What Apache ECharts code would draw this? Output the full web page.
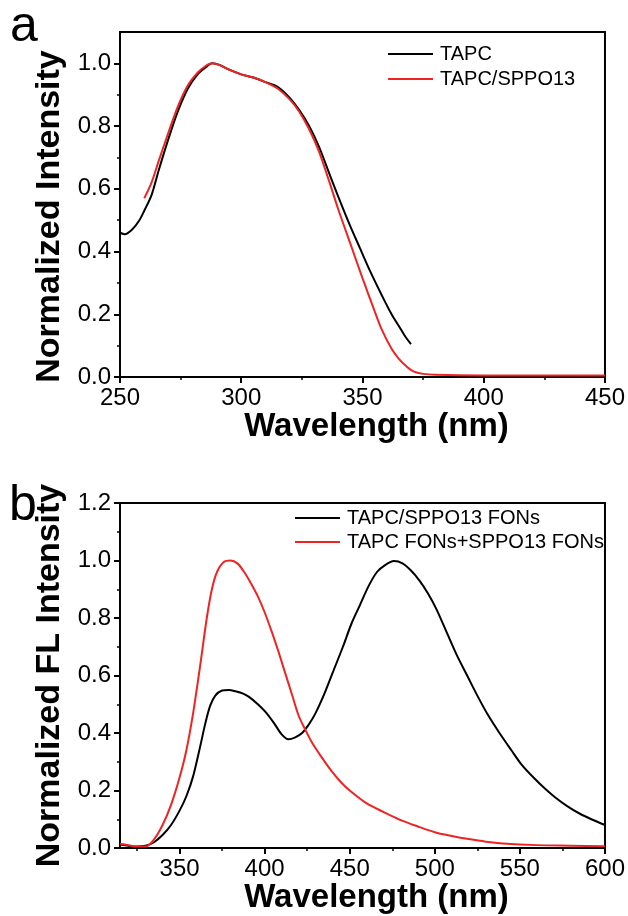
<!DOCTYPE html>
<html>
<head>
<meta charset="utf-8">
<script src="https://cdn.jsdelivr.net/npm/echarts@6/dist/echarts.min.js"></script>
<style>
  html, body { margin: 0; padding: 0; background: #fff; }
  #main { width: 628px; height: 916px; }
</style>
</head>
<body>
<div id="main"></div>
<script>
// panel a: absorption
var aTapcWl  = [250, 252, 255, 258, 260, 263, 266, 270, 274, 278, 282, 285, 288, 291, 295, 300, 305, 310, 315, 320, 324, 328, 332, 336, 340, 345, 349, 353, 358, 362, 366, 368, 370];
var aTapcVal = [0.46, 0.455, 0.47, 0.50, 0.53, 0.58, 0.66, 0.76, 0.85, 0.92, 0.965, 0.985, 1.0, 0.995, 0.98, 0.965, 0.955, 0.94, 0.925, 0.89, 0.85, 0.80, 0.735, 0.655, 0.575, 0.48, 0.41, 0.34, 0.26, 0.20, 0.15, 0.125, 0.105];
var aMixWl   = [260, 263, 266, 270, 274, 278, 282, 285, 288, 291, 295, 300, 305, 310, 315, 320, 324, 328, 332, 336, 340, 345, 350, 355, 358, 362, 365, 368, 371, 375, 380, 400, 450];
var aMixVal  = [0.57, 0.62, 0.69, 0.78, 0.865, 0.93, 0.97, 0.99, 1.0, 0.995, 0.98, 0.965, 0.955, 0.94, 0.92, 0.885, 0.845, 0.79, 0.72, 0.63, 0.535, 0.425, 0.315, 0.21, 0.15, 0.09, 0.058, 0.035, 0.018, 0.01, 0.007, 0.005, 0.005];

// panel b: fluorescence
var bBlendWl  = [315, 320, 325, 330, 335, 340, 345, 350, 354, 358, 362, 365, 368, 371, 375, 379, 383, 387, 391, 396, 401, 406, 410, 414, 418, 422, 426, 430, 435, 440, 446, 451, 456, 461, 466, 471, 476, 481, 486, 491, 496, 501, 507, 513, 519, 525, 531, 538, 545, 551, 558, 565, 571, 578, 585, 592, 600];
var bBlendVal = [0.012, 0.008, 0.005, 0.008, 0.02, 0.045, 0.08, 0.13, 0.18, 0.25, 0.35, 0.43, 0.495, 0.53, 0.548, 0.55, 0.545, 0.538, 0.525, 0.5, 0.47, 0.43, 0.395, 0.378, 0.385, 0.4, 0.43, 0.47, 0.535, 0.61, 0.70, 0.78, 0.845, 0.91, 0.96, 0.985, 0.998, 0.99, 0.965, 0.93, 0.885, 0.83, 0.75, 0.67, 0.6, 0.53, 0.465, 0.40, 0.34, 0.29, 0.245, 0.205, 0.175, 0.145, 0.12, 0.1, 0.08];
var bSumWl  = [315, 320, 325, 330, 335, 340, 345, 350, 354, 358, 362, 366, 369, 372, 376, 380, 384, 388, 392, 396, 400, 404, 408, 412, 416, 420, 424, 428, 433, 439, 445, 450, 460, 470, 480, 490, 500, 510, 520, 530, 540, 560, 580, 600];
var bSumVal = [0.015, 0.01, 0.005, 0.005, 0.03, 0.08, 0.15, 0.245, 0.34, 0.47, 0.63, 0.8, 0.9, 0.96, 0.995, 1.0, 0.99, 0.96, 0.92, 0.875, 0.82, 0.755, 0.685, 0.61, 0.535, 0.46, 0.41, 0.365, 0.32, 0.27, 0.228, 0.2, 0.155, 0.125, 0.097, 0.075, 0.055, 0.042, 0.031, 0.022, 0.016, 0.01, 0.008, 0.006];

// ticks
var aXMajor = [250, 300, 350, 400, 450];
var aXMinor = [275, 325, 375, 425];
var aYMajor = [0, 0.2, 0.4, 0.6, 0.8, 1.0];
var aYMinor = [0.1, 0.3, 0.5, 0.7, 0.9];
var bXMajor = [350, 400, 450, 500, 550, 600];
var bXMinor = [325, 375, 425, 475, 525, 575];
var bYMajor = [0, 0.2, 0.4, 0.6, 0.8, 1.0, 1.2];
var bYMinor = [0.1, 0.3, 0.5, 0.7, 0.9, 1.1];

function zip(xs, ys) {
  return xs.map(function (x, i) { return [x, ys[i]]; });
}

var FONT = 'Liberation Sans';
var RED = '#ee2424';

function mainX(grid, min, max, major, name) {
  return {
    type: 'value', gridIndex: grid, min: min, max: max, position: 'bottom',
    name: name, nameLocation: 'middle', nameGap: 32,
    nameTextStyle: { fontFamily: FONT, fontSize: 33, fontWeight: 'bold', color: '#000', padding: [0, 0, 0, 28] },
    axisLine: { onZero: false, lineStyle: { color: '#000', width: 2 } },
    axisTick: { customValues: major, length: 6, lineStyle: { color: '#000', width: 2 } },
    axisLabel: { customValues: major, margin: 9, fontFamily: FONT, fontSize: 24, color: '#000' },
    splitLine: { show: false }
  };
}
function mainY(grid, min, max, major, name, pad) {
  return {
    type: 'value', gridIndex: grid, min: min, max: max, position: 'left',
    name: name, nameLocation: 'middle', nameGap: 46,
    nameTextStyle: { fontFamily: FONT, fontSize: 34, fontWeight: 'bold', color: '#000', padding: pad },
    axisLine: { onZero: false, lineStyle: { color: '#000', width: 2 } },
    axisTick: { customValues: major, length: 6, lineStyle: { color: '#000', width: 2 } },
    axisLabel: {
      customValues: major, margin: 9, fontFamily: FONT, fontSize: 24, color: '#000',
      formatter: function (v) { return v.toFixed(1); }
    },
    splitLine: { show: false }
  };
}
function minorAxis(grid, min, max, minor, pos) {
  return {
    type: 'value', gridIndex: grid, min: min, max: max, position: pos,
    axisLine: { show: false, onZero: false },
    axisTick: { customValues: minor, length: 3, lineStyle: { color: '#000', width: 1.5 } },
    axisLabel: { show: false },
    splitLine: { show: false }
  };
}

var chart = echarts.init(document.getElementById('main'), null, { renderer: 'canvas' });

chart.setOption({
  animation: false,
  backgroundColor: '#fff',
  textStyle: { fontFamily: FONT },
  graphic: [
    { type: 'text', left: 10, top: 2, style: { text: 'a', fontFamily: FONT, fontSize: 50, fill: '#000' } },
    { type: 'text', left: 9, top: 481, style: { text: 'b', fontFamily: FONT, fontSize: 50, fill: '#000' } }
  ],
  grid: [
    { left: 120, right: 23, top: 32, height: 345, show: true, borderColor: '#000', borderWidth: 2 },
    { left: 120, right: 23, top: 503, height: 345, show: true, borderColor: '#000', borderWidth: 2 }
  ],
  legend: [
    {
      data: ['TAPC', 'TAPC/SPPO13'], orient: 'vertical', left: 388, top: 44, padding: 0,
      icon: 'rect', itemWidth: 45, itemHeight: 2, itemGap: 5,
      textStyle: { fontFamily: FONT, fontSize: 20, lineHeight: 20, color: '#000', padding: [0, 0, 0, 2] }
    },
    {
      data: ['TAPC/SPPO13 FONs', 'TAPC FONs+SPPO13 FONs'], orient: 'vertical', left: 295, top: 508, padding: 0,
      icon: 'rect', itemWidth: 45, itemHeight: 2, itemGap: 4,
      textStyle: { fontFamily: FONT, fontSize: 20, lineHeight: 20, color: '#000', padding: [0, 0, 0, 2] }
    }
  ],
  xAxis: [
    mainX(0, 250, 450, aXMajor, 'Wavelength (nm)'),
    minorAxis(0, 250, 450, aXMinor, 'bottom'),
    mainX(1, 315, 600, bXMajor, 'Wavelength (nm)'),
    minorAxis(1, 315, 600, bXMinor, 'bottom')
  ],
  yAxis: [
    mainY(0, 0, 1.1, aYMajor, 'Normalized Intensity', [0, 24, 0, 0]),
    minorAxis(0, 0, 1.1, aYMinor, 'left'),
    mainY(1, 0, 1.2, bYMajor, 'Normalized FL Intensity', [0, 0, 0, 0]),
    minorAxis(1, 0, 1.2, bYMinor, 'left')
  ],
  series: [
    {
      name: 'TAPC', type: 'line', xAxisIndex: 0, yAxisIndex: 0, data: zip(aTapcWl, aTapcVal),
      color: '#000', showSymbol: false, smooth: 0.3, lineStyle: { color: '#000', width: 2 }
    },
    {
      name: 'TAPC/SPPO13', type: 'line', xAxisIndex: 0, yAxisIndex: 0, data: zip(aMixWl, aMixVal),
      color: RED, showSymbol: false, smooth: 0.3, lineStyle: { color: RED, width: 2 }
    },
    {
      name: 'TAPC/SPPO13 FONs', type: 'line', xAxisIndex: 2, yAxisIndex: 2, data: zip(bBlendWl, bBlendVal),
      color: '#000', showSymbol: false, smooth: 0.3, lineStyle: { color: '#000', width: 2 }
    },
    {
      name: 'TAPC FONs+SPPO13 FONs', type: 'line', xAxisIndex: 2, yAxisIndex: 2, data: zip(bSumWl, bSumVal),
      color: RED, showSymbol: false, smooth: 0.3, lineStyle: { color: RED, width: 2 }
    }
  ]
});
</script>
</body>
</html>
